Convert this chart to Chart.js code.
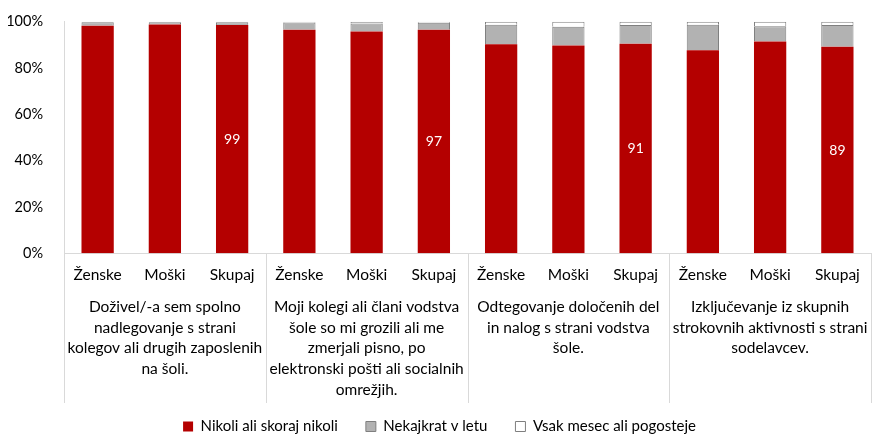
<!DOCTYPE html>
<html>
<head>
<meta charset="utf-8">
<script src="https://cdn.jsdelivr.net/npm/chart.js@4"></script>
<style>
  html, body { margin: 0; padding: 0; background: #fff; }
  #wrap { width: 872px; height: 434px; }
</style>
</head>
<body>
<div id="wrap"><canvas id="c" width="872" height="434"></canvas></div>
<script>
// podatki (odstotki)
const genders = ['Ženske', 'Moški', 'Skupaj', 'Ženske', 'Moški', 'Skupaj', 'Ženske', 'Moški', 'Skupaj', 'Ženske', 'Moški', 'Skupaj'];
const groups = [
    ['Doživel/-a sem spolno', 'nadlegovanje s strani', 'kolegov ali drugih zaposlenih', 'na šoli.'],
    ['Moji kolegi ali člani vodstva', 'šole so mi grozili ali me', 'zmerjali pisno, po', 'elektronski pošti ali socialnih', 'omrežjih.'],
    ['Odtegovanje določenih del', 'in nalog s strani vodstva', 'šole.'],
    ['Izključevanje iz skupnih', 'strokovnih aktivnosti s strani', 'sodelavcev.']
];
const seriesNames = ['Nikoli ali skoraj nikoli', 'Nekajkrat v letu', 'Vsak mesec ali pogosteje'];
const nikoli = [98.3, 98.8, 98.6, 96.5, 95.8, 96.5, 90.3, 89.7, 90.5, 87.7, 91.4, 89.2];
const nekajkrat = [1.5, 1.0, 1.2, 3.2, 3.4, 3.1, 8.4, 8.1, 8.1, 11.0, 6.6, 9.4];
const mesecno = [0.2, 0.2, 0.2, 0.3, 0.8, 0.4, 1.3, 2.2, 1.4, 1.3, 2.0, 1.4];
const yTicks = [0, 20, 40, 60, 80, 100];

const FONT = 'Lato, "Open Sans", sans-serif';
Chart.defaults.font.family = FONT;
Chart.defaults.color = '#000';

// navpične ločnice med skupinami
const separators = {
    id: 'separators',
    afterDraw(chart) {
        const ctx = chart.ctx, x = chart.scales.x, area = chart.chartArea;
        const bottom = chart.scales.x2.bottom + 2;
        const xs = [area.left];
        for (let g = 1; g < groups.length; g++) {
            xs.push((x.getPixelForValue(g * 3 - 1) + x.getPixelForValue(g * 3)) / 2);
        }
        xs.push(area.right);
        ctx.save();
        ctx.strokeStyle = '#d9d9d9';
        ctx.lineWidth = 1;
        xs.forEach(px => {
            ctx.beginPath();
            ctx.moveTo(Math.round(px) + 0.5, area.bottom);
            ctx.lineTo(Math.round(px) + 0.5, bottom);
            ctx.stroke();
        });
        ctx.restore();
    }
};

// legenda malo višje v svojem okvirju
const legendShift = {
    id: 'legendShift',
    beforeUpdate(chart) {
        const lg = chart.legend;
        if (!lg || lg._shifted) return;
        const draw = lg.draw;
        lg.draw = function (...a) {
            this.ctx.save();
            this.ctx.translate(0, -10);
            draw.apply(this, a);
            this.ctx.restore();
        };
        lg._shifted = true;
    }
};

// oznake vrednosti za Skupaj
const skupajLabels = {
    id: 'skupajLabels',
    afterDatasetsDraw(chart) {
        const ctx = chart.ctx;
        const meta = chart.getDatasetMeta(0);
        ctx.save();
        ctx.fillStyle = '#fff';
        ctx.font = '14px ' + FONT;
        ctx.textAlign = 'center';
        ctx.textBaseline = 'middle';
        meta.data.forEach((el, i) => {
            if (i % 3 !== 2) return;
            ctx.fillText(Math.round(nikoli[i]), el.x, (el.y + el.base) / 2);
        });
        ctx.restore();
    }
};

new Chart(document.getElementById('c'), {
    type: 'bar',
    data: {
        labels: genders,
        datasets: [
            { label: seriesNames[0], data: nikoli, backgroundColor: '#b40000', borderWidth: 0 },
            { label: seriesNames[1], data: nekajkrat, backgroundColor: '#b2b2b2', borderColor: '#7f7f7f', borderWidth: 1 },
            { label: seriesNames[2], data: mesecno, backgroundColor: '#ffffff', borderColor: '#7f7f7f', borderWidth: 1 }
        ]
    },
    options: {
        responsive: false,
        animation: false,
        layout: { padding: { left: 8, right: 1, top: 19, bottom: -20 } },
        datasets: { bar: { barPercentage: 0.48, categoryPercentage: 1 } },
        scales: {
            x: {
                stacked: true,
                grid: { display: false },
                border: { color: '#d9d9d9' },
                ticks: { font: { size: 15.5 }, padding: 4, maxRotation: 0 }
            },
            x2: {
                type: 'category',
                position: 'bottom',
                labels: groups,
                grid: { display: false },
                border: { display: false },
                ticks: { font: { size: 15.5, lineHeight: 1.33 }, padding: 1, maxRotation: 0, autoSkip: false }
            },
            y: {
                stacked: true,
                min: 0,
                max: 100,
                afterBuildTicks: axis => { axis.ticks = yTicks.map(v => ({ value: v })); },
                afterFit: axis => { axis.width = 56; },
                grid: { display: false },
                border: { color: '#d9d9d9' },
                ticks: { font: { size: 14.5 }, padding: 13, callback: v => v + '%' }
            }
        },
        plugins: {
            legend: {
                position: 'bottom',
                labels: { font: { size: 15 }, boxWidth: 10, boxHeight: 10, padding: 28 }
            },
            tooltip: { enabled: false }
        }
    },
    plugins: [separators, legendShift, skupajLabels]
});
</script>
</body>
</html>
